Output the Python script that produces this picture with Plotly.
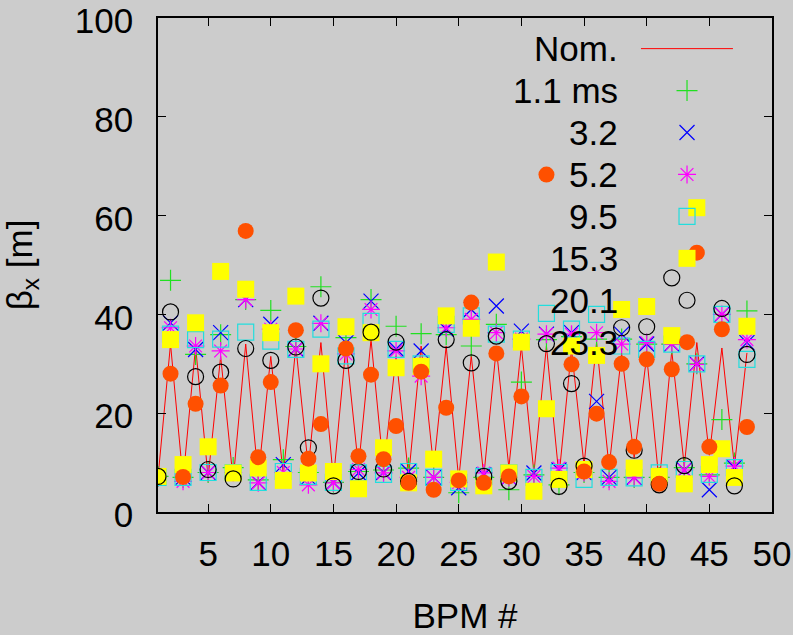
import plotly.graph_objects as go

# BPM index along the ring
bpm = list(range(1, 49))

# Nominal horizontal beta function at each BPM [m]
beta_nom = [7.0, 34.0, 6.5, 33.5, 7.0, 31.5, 6.5, 34.0, 7.0, 31.5, 7.5, 33.5,
            9.0, 34.3, 6.6, 33.6, 9.0, 34.9, 8.6, 31.6, 7.2, 33.6, 9.0, 33.6,
            6.6, 31.6, 7.2, 33.2, 9.0, 33.6, 7.9, 33.6, 7.2, 32.9, 9.5, 34.3,
            9.0, 32.2, 11.0, 31.6, 5.9, 32.6, 9.3, 34.3, 11.5, 33.2, 9.3, 32.2]

# Measured beta at several times in the cycle [m]
beta_1p1 = [7.2, 46.9, 7.0, 31.9, 8.0, 35.9, 9.0, 43.0, 6.5, 40.8, 10.6, 33.5,
            8.0, 45.6, 6.0, 35.3, 8.2, 43.0, 8.5, 37.6, 8.9, 36.1, 7.0, 35.9,
            3.9, 33.6, 7.0, 38.0, 4.5, 26.3, 7.5, 34.9, 5.5, 35.5, 8.0, 35.0,
            7.0, 35.0, 7.0, 34.0, 7.0, 34.0, 9.0, 30.0, 7.5, 18.7, 9.9, 40.7]

beta_3p2 = [7.0, 38.3, 7.0, 32.9, 8.0, 36.3, 8.0, 43.0, 6.0, 38.0, 9.6, 33.0,
            7.0, 38.2, 6.0, 34.3, 7.9, 42.7, 8.0, 33.0, 8.2, 32.6, 7.0, 37.0,
            4.9, 41.0, 7.5, 41.7, 7.0, 36.6, 7.9, 36.0, 8.5, 36.3, 8.0, 22.4,
            7.0, 36.0, 7.0, 34.0, 7.0, 34.0, 8.5, 30.0, 4.5, 40.0, 9.0, 34.3]

beta_5p2 = [7.0, 37.3, 6.2, 33.6, 8.0, 32.6, 8.0, 43.0, 5.9, 37.0, 8.0, 33.0,
            5.5, 38.2, 5.9, 32.0, 8.6, 41.0, 7.9, 32.6, 7.0, 27.5, 7.0, 37.3,
            6.0, 39.0, 7.9, 36.3, 7.0, 35.0, 7.2, 36.0, 8.9, 36.0, 8.0, 36.3,
            6.2, 34.0, 6.9, 34.3, 7.0, 34.0, 8.5, 29.9, 7.2, 40.0, 9.3, 34.9]

beta_9p5 = [7.0, 36.0, 7.0, 34.9, 8.0, 35.0, 8.0, 36.4, 6.0, 34.6, 8.2, 32.9,
            7.2, 37.0, 6.0, 31.6, 7.9, 38.6, 7.6, 32.9, 8.2, 30.0, 7.0, 38.0,
            6.0, 39.7, 7.2, 36.0, 7.9, 35.0, 7.0, 40.2, 8.0, 37.0, 6.6, 40.0,
            7.0, 33.6, 6.9, 32.9, 7.9, 34.0, 8.6, 30.0, 7.6, 40.0, 9.0, 30.9]

beta_15p3 = [7.2, 34.9, 9.6, 38.3, 13.2, 48.7, 7.9, 45.1, 8.9, 36.3, 6.4, 43.7,
             7.9, 30.0, 8.2, 37.5, 4.7, 36.3, 13.0, 29.2, 5.9, 29.5, 10.7, 39.7,
             6.7, 37.2, 5.3, 50.6, 7.9, 34.4, 4.2, 20.9, 6.6, 33.6, 8.6, 31.7,
             None, 41.0, 8.9, 41.6, 7.2, 35.7, 5.7, 61.6, 9.6, 12.8, 7.0, 37.6]

beta_20p1 = [7.2, 40.5, None, 27.4, 8.6, 28.3, 6.7, 33.1, None, 30.7, None, 33.4,
             13.0, 43.3, 5.3, 30.7, 8.2, 36.4, 8.7, 34.4, 6.2, None, None, 34.9,
             None, 30.2, 7.2, 35.6, 6.2, None, None, 34.1, 5.2, 26.0, 9.3, None,
             None, 37.3, 12.5, 37.5, 5.5, 47.4, 9.4, None, None, 41.2, 5.3, 31.9]

beta_23p3 = [None, 28.0, 7.1, 21.9, None, 25.6, None, 56.9, 11.1, 26.3, None, 36.8,
             10.8, 17.8, None, 33.1, 11.3, 27.8, 10.7, 17.4, 5.9, 28.4, 4.5, 21.1,
             6.4, 42.4, 5.9, 32.1, 7.2, 23.4, None, 68.3, None, 29.9, 8.2, 19.9,
             10.1, 30.0, 13.2, 30.9, 5.7, 28.9, None, 52.5, 13.2, 37.0, None, 17.2]

series_names = ["1.1 ms", "3.2", "5.2", "9.5", "15.3", "20.1", "23.3"]
series_values = [beta_1p1, beta_3p2, beta_5p2, beta_9p5, beta_15p3, beta_20p1, beta_23p3]

x_ticks = [5, 10, 15, 20, 25, 30, 35, 40, 45, 50]
y_ticks = [0, 20, 40, 60, 80, 100]

# point style per series (gnuplot-like point types)
styles = [
    dict(symbol="cross-thin-open", color="#20e020", size=15),
    dict(symbol="x-thin-open", color="#0000ff", size=15),
    dict(symbol="asterisk-open", color="#ff00ff", size=15),
    dict(symbol="square-open", color="#22dddd", size=16),
    dict(symbol="square", color="#ffff00", size=17),
    dict(symbol="circle-open", color="#000000", size=16),
    dict(symbol="circle", color="#ff5000", size=16),
]

FONT = "Liberation Sans, Arial, Helvetica, sans-serif"
FS = 35
BG = "#cccccc"

fig = go.Figure()

fig.add_trace(go.Scatter(x=bpm, y=beta_nom, mode="lines", name="Nom.",
                         line=dict(color="#ff0000", width=1), showlegend=False))

for name, vals, st in zip(series_names, series_values, styles):
    open_sym = st["symbol"].endswith("open")
    fig.add_trace(go.Scatter(
        x=bpm, y=vals, mode="markers", name=name, showlegend=False,
        marker=dict(symbol=st["symbol"], size=st["size"], color=st["color"],
                    line=dict(color=st["color"], width=1.2 if open_sym else 0)),
    ))

# Key: right-aligned labels with their samples to the right
key_labels = ["Nom."] + series_names
row_top = 0.938
row_step = 0.0849
label_x = 0.7525
sample_x = 0.8616
for i, lab in enumerate(key_labels):
    fig.add_annotation(x=label_x, y=row_top - i * row_step, xref="paper", yref="paper",
                       text=lab, showarrow=False, xanchor="right", yanchor="middle",
                       font=dict(family=FONT, size=FS, color="black"))
fig.add_shape(type="line", xref="paper", yref="paper", x0=0.7866, x1=0.9364,
              y0=row_top, y1=row_top, line=dict(color="#ff0000", width=1))
for i, st in enumerate(styles):
    open_sym = st["symbol"].endswith("open")
    fig.add_trace(go.Scatter(
        x=[sample_x], y=[row_top - (i + 1) * row_step], xaxis="x2", yaxis="y2",
        mode="markers", showlegend=False, hoverinfo="skip",
        marker=dict(symbol=st["symbol"], size=st["size"], color=st["color"],
                    line=dict(color=st["color"], width=1.2 if open_sym else 0)),
    ))

axis_common = dict(showgrid=False, zeroline=False, showline=True, linecolor="black",
                   linewidth=1.5, mirror="ticks", ticks="inside", ticklen=8,
                   tickwidth=1.2, tickcolor="black", ticklabeloverflow="allow",
                   automargin=False,
                   tickfont=dict(family=FONT, size=FS, color="black"))

fig.update_layout(
    width=793, height=635,
    margin=dict(l=158, r=21, t=18, b=123, autoexpand=False),
    paper_bgcolor=BG, plot_bgcolor=BG,
    showlegend=False,
    xaxis=dict(range=[1, 50], tickvals=x_ticks, ticklabelstandoff=10,
               title=dict(text="BPM #", font=dict(family=FONT, size=FS, color="black"),
                          standoff=35),
               **axis_common),
    yaxis=dict(range=[0, 100], tickvals=y_ticks, ticklabelstandoff=16,
               ticklabelshift=3,
               title=dict(text="β<sub>x</sub> [m]",
                          font=dict(family=FONT, size=FS, color="black"), standoff=44),
               **axis_common),
    xaxis2=dict(overlaying="x", range=[0, 1], visible=False, anchor="y2"),
    yaxis2=dict(overlaying="y", range=[0, 1], visible=False, anchor="x2"),
)

fig.write_html("out.html")
